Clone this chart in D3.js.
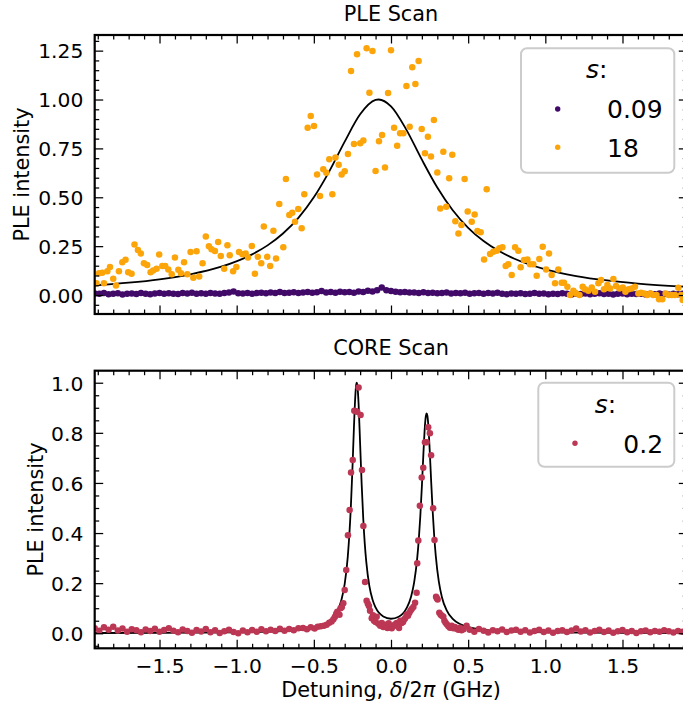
<!DOCTYPE html>
<html><head><meta charset="utf-8">
<script src="https://cdn.jsdelivr.net/npm/d3@7"></script>
<style>body{margin:0;background:#fff}svg{display:block}text{font-family:"DejaVu Sans",sans-serif}</style>
</head><body><svg id="c" width="683" height="709"></svg>
<script>
// ---------- data ----------
const xTicks = [-1.5,-1.0,-0.5,0.0,0.5,1.0,1.5];
const xTickLabels = ["\u22121.5","\u22121.0","\u22120.5","0.0","0.5","1.0","1.5"];
const yTicksTop = [0,0.25,0.5,0.75,1.0,1.25];
const yTickLabelsTop = ["0.00","0.25","0.50","0.75","1.00","1.25"];
const yTicksBot = [0,0.2,0.4,0.6,0.8,1.0];
const yTickLabelsBot = ["0.0","0.2","0.4","0.6","0.8","1.0"];

// PLE scan, s = 0.09
const purpleX = [-1.92,-1.89,-1.86,-1.83,-1.80,-1.77,-1.74,-1.71,-1.68,-1.65,
-1.62,-1.59,-1.56,-1.53,-1.50,-1.47,-1.44,-1.41,-1.38,-1.35,
-1.32,-1.29,-1.26,-1.23,-1.20,-1.17,-1.14,-1.11,-1.08,-1.05,
-1.02,-0.99,-0.96,-0.93,-0.90,-0.87,-0.84,-0.81,-0.78,-0.75,
-0.72,-0.69,-0.66,-0.63,-0.60,-0.57,-0.54,-0.51,-0.48,-0.45,
-0.42,-0.39,-0.36,-0.33,-0.30,-0.27,-0.24,-0.21,-0.18,-0.15,
-0.12,-0.09,-0.06,-0.03,0.00,0.03,0.06,0.09,0.12,0.15,
0.18,0.21,0.24,0.27,0.30,0.33,0.36,0.39,0.42,0.45,
0.48,0.51,0.54,0.57,0.60,0.63,0.66,0.69,0.72,0.75,
0.78,0.81,0.84,0.87,0.90,0.93,0.96,0.99,1.02,1.05,
1.08,1.11,1.14,1.17,1.20,1.23,1.26,1.29,1.32,1.35,
1.38,1.41,1.44,1.47,1.50,1.53,1.56,1.59,1.62,1.65,
1.68,1.71,1.74,1.77,1.80,1.83,1.86,1.89,1.92];
const purpleY = [0.008,0.006,0.01,0.004,0.007,0.009,0.003,0.006,0.008,0.005,
0.01,0.007,0.004,0.008,0.011,0.006,0.009,0.007,0.005,0.01,
0.008,0.012,0.006,0.009,0.007,0.011,0.008,0.006,0.01,0.013,
0.018,0.009,
0.008,0.011,0.007,0.01,0.012,0.009,0.013,0.011,0.015,0.01,
0.012,0.014,0.011,0.013,0.016,0.012,0.014,0.02,0.013,0.015,
0.012,0.017,0.014,
0.016,0.012,0.018,0.015,0.022,0.018,0.025,0.038,0.024,0.02,
0.017,0.014,0.016,0.013,
0.013,0.011,0.014,0.01,0.012,0.009,0.011,0.013,0.008,0.01,
0.009,0.012,0.007,0.009,0.011,0.006,0.01,0.008,0.012,0.007,
0.004,0.008,0.006,0.009,0.005,0.007,0.01,0.006,0.008,0.004,
0.007,0.005,0.009,0.006,0.003,0.007,0.005,0.008,0.004,0.006,
0.009,0.005,0.007,0.003,0.006,0.008,0.004,0.006,0.005,0.007,
0.003,0.006,0.004,0.008,0.005,0.003,0.006,0.004,0.007,0.005];

// PLE scan, s = 18
const orangeX = [-1.909,-1.892,-1.871,-1.86,-1.838,-1.821,-1.8,-1.782,-1.763,-1.741,
-1.72,-1.703,-1.681,-1.662,-1.64,-1.621,-1.601,-1.58,-1.558,-1.541,
-1.519,-1.502,-1.482,-1.463,-1.443,-1.421,-1.4,-1.378,-1.361,-1.341,
-1.32,-1.299,-1.281,-1.26,-1.243,-1.221,-1.2,-1.18,-1.163,-1.141,
-1.12,-1.103,-1.081,-1.06,-1.045,-1.023,-1.002,-0.985,-0.963,-0.942,
-0.927,-0.902,-0.882,-0.863,-0.841,-0.824,-0.802,-0.783,-0.762,-0.745,
-0.724,
-0.698,-0.681,-0.659,-0.64,-0.622,-0.601,-0.579,-0.562,-0.54,-0.52,
-0.499,-0.479,-0.46,-0.439,-0.419,-0.4,-0.38,-0.36,-0.339,-0.32,
-0.3,-0.279,-0.259,-0.24,-0.22,-0.199,-0.179,-0.158,-0.14,-0.12,
-0.1,-0.078,-0.058,-0.039,-0.019,0.0,0.02,0.04,0.059,0.08,
0.1,0.121,0.138,0.158,0.179,0.199,0.22,0.239,0.259,0.278,
0.3,0.319,0.339,0.358,0.377,0.397,0.417,0.437,0.456,0.477,0.497,
0.523,0.542,0.56,0.581,0.603,0.62,0.642,0.663,0.685,0.702,
0.722,0.743,0.76,0.782,0.804,0.825,0.84,0.862,0.884,0.901,
0.922,0.944,0.961,0.983,1.005,1.024,1.041,1.063,1.084,1.106,
1.121,1.143,1.16,1.182,1.199,1.221,1.242,1.257,1.279,1.301,
1.322,1.344,1.361,1.38,1.402,1.42,1.441,1.458,1.48,1.502,
1.519,1.54,1.56,1.581,1.603,1.62,1.641,1.66,1.682,1.698,
1.72,1.737,1.758,1.78,1.8,1.82,1.84,1.862,1.879,1.89];
const orangeY = [0.06,0.112,0.114,0.06,0.122,0.143,0.083,0.049,0.122,0.168,
0.18,0.117,0.109,0.259,0.23,0.213,0.162,0.154,0.117,0.126,
0.134,0.207,0.149,0.149,0.131,0.106,0.192,0.129,0.112,0.168,
0.106,0.22,0.088,0.224,0.095,0.163,0.3,0.249,0.234,0.225,
0.271,0.2,0.135,0.254,0.204,0.122,0.143,0.22,0.209,0.213,
0.192,0.251,0.109,0.196,0.162,0.35,0.196,0.148,0.329,0.187,
0.466,
0.244,0.594,0.409,0.421,0.375,0.44,0.341,0.516,0.856,0.916,
0.865,0.616,0.506,0.643,0.626,0.694,0.516,0.703,0.666,0.616,
0.633,0.721,1.146,0.773,1.231,0.776,0.79,1.262,1.034,1.248,
0.634,0.787,0.818,0.652,1.033,1.252,0.856,0.763,0.827,0.827,
1.069,0.861,1.165,1.079,1.197,0.849,0.725,0.81,0.708,0.895,
0.627,0.443,0.733,0.452,0.597,0.717,0.378,0.315,0.358,0.594,0.427,
0.375,0.412,0.327,0.321,0.182,0.541,0.21,0.222,0.227,0.239,
0.244,0.148,0.157,0.102,0.244,0.227,0.142,0.179,0.182,0.158,
0.158,0.099,0.184,0.247,0.131,0.213,0.102,0.06,0.131,0.063,
0.063,0.042,0.0,0.022,0.008,0.0,0.042,0.029,0.022,0.039,
0.017,0.06,0.077,0.029,0.051,0.034,0.082,0.046,0.034,0.039,
0.017,0.029,0.034,0.042,0.008,0.012,0.008,0.0,0.008,0.0,
0.0,-0.022,-0.022,0.008,0.0,0.0,0.0,0.037,0.0,-0.026];

// PLE fit
const fitTopX = [-1.92,-1.7,-1.5,-1.3,-1.1,-0.9,-0.8,-0.7,-0.6,-0.5,-0.4,-0.3,-0.2,-0.1,-0.08,0,0.1,0.2,0.3,0.4,0.5,0.6,0.7,0.8,1.0,1.2,1.4,1.6,1.92];
const fitTopY = [0.0495,0.063,0.0804,0.106,0.145,0.208,0.254,0.3146,0.3948,0.5,0.6327,0.7847,0.9245,0.9977,1.0,0.965,0.8448,0.6923,0.5499,0.4336,0.344,0.2762,0.2248,0.1855,0.1314,0.0972,0.0745,0.0588,0.0422];

// CORE scan, s = 0.2
const crimsonLeftX = [-1.92,-1.89,-1.86,-1.83,-1.80,-1.77,-1.74,-1.71,-1.68,-1.65,
-1.62,-1.59,-1.56,-1.53,-1.50,-1.47,-1.44,-1.41,-1.38,-1.35,
-1.32,-1.29,-1.26,-1.23,-1.20,-1.17,-1.14,-1.11,-1.08,-1.05,
-1.02,-0.99,-0.96,-0.93,-0.90,-0.87,-0.84,-0.81,-0.78,-0.75,
-0.72,-0.69,-0.66,-0.63,-0.60];
const crimsonLeftY = [0.02,0.01,0.024,0.014,0.026,0.011,0.019,0.006,0.016,0.012,
0.004,0.015,0.009,0.018,0.006,0.013,0.02,0.01,0.004,0.015,
0.009,0.002,0.013,0.007,0.017,0.004,0.012,0.001,0.008,0.014,
0.005,0.0,0.011,0.004,0.013,0.006,0.016,0.008,0.014,0.009,
0.018,0.01,0.017,0.012,0.02];
const crimsonPeaks = [[-0.57,0.021],[-0.545,0.016],[-0.52,0.024],[-0.495,0.019],[-0.475,0.026],
[-0.455,0.028],[-0.435,0.03],[-0.417,0.034],[-0.4,0.042],[-0.385,0.047],[-0.373,0.056],
[-0.363,0.066],[-0.355,0.078],[-0.348,0.086],[-0.334,0.074],[-0.327,0.1],[-0.319,0.104],
[-0.309,0.12],[-0.3,0.173],[-0.29,0.253],[-0.279,0.391],[-0.268,0.492],[-0.259,0.642],
[-0.248,0.692],[-0.238,0.888],[-0.228,0.886],[-0.219,0.884],[-0.21,0.981],[-0.197,0.871],
[-0.188,0.652],[-0.179,0.428],[-0.168,0.205],[-0.158,0.13],[-0.15,0.118],[-0.143,0.109],
[-0.136,0.09],[-0.125,0.06],[-0.117,0.072],[-0.11,0.05],[-0.1,0.045],[-0.093,0.066],
[-0.082,0.038],[-0.07,0.03],[-0.06,0.041],[-0.05,0.025],[-0.038,0.034],[-0.023,0.021],
[-0.015,0.04],[-0.006,0.03],[0.005,0.02],[0.015,0.028],[0.025,0.035],[0.037,0.041],
[0.045,0.03],[0.052,0.021],[0.06,0.05],[0.069,0.041],[0.078,0.045],[0.084,0.054],
[0.092,0.06],[0.101,0.074],[0.11,0.07],[0.118,0.081],[0.126,0.09],[0.134,0.097],
[0.145,0.105],[0.156,0.122],[0.166,0.162],[0.17,0.279],[0.177,0.37],[0.187,0.509],
[0.199,0.622],[0.209,0.661],[0.22,0.762],[0.231,0.762],[0.241,0.822],[0.252,0.798],
[0.26,0.711],[0.273,0.499],[0.282,0.372],[0.292,0.146],[0.297,0.14],[0.302,0.135],
[0.313,0.082],[0.322,0.074],[0.33,0.07],[0.339,0.066],[0.346,0.05],[0.354,0.042],
[0.363,0.035],[0.372,0.028],[0.382,0.022],[0.393,0.03],[0.404,0.02],[0.414,0.025],
[0.425,0.018],[0.436,0.014],[0.447,0.022],[0.457,0.012],[0.47,0.016],[0.49,0.03]];
const crimsonRightX = [0.51,0.54,0.57,0.60,0.63,0.66,0.69,0.72,0.75,0.78,
0.81,0.84,0.87,0.90,0.93,0.96,0.99,1.02,1.05,1.08,
1.11,1.14,1.17,1.20,1.23,1.26,1.29,1.32,1.35,1.38,
1.41,1.44,1.47,1.50,1.53,1.56,1.59,1.62,1.65,1.68,
1.71,1.74,1.77,1.80,1.83,1.86,1.89,1.92];
const crimsonRightY = [0.014,0.006,0.017,0.01,0.003,0.012,0.008,0.015,0.005,0.011,
0.014,0.006,0.012,0.003,0.009,0.014,0.005,0.011,0.002,0.009,
0.012,0.005,0.011,0.019,0.007,0.012,0.003,0.009,0.014,0.005,
0.011,0.002,0.008,0.013,0.004,0.009,0.001,0.008,0.011,0.004,
0.009,0.006,0.012,0.008,0.003,0.009,0.006,0.011];

// CORE fit
const fitBotX = [-1.92,-1.5,-1.0,-0.7,-0.5,-0.4,-0.35,-0.32,-0.3,-0.28,-0.26,-0.25,-0.24,-0.23,-0.226,-0.222,-0.218,-0.21,-0.2,-0.19,-0.18,-0.17,-0.16,-0.14,-0.12,-0.1,-0.05,0,0.05,0.1,0.13,0.15,0.17,0.18,0.19,0.2,0.21,0.22,0.226,0.231,0.236,0.24,0.25,0.26,0.27,0.28,0.29,0.31,0.33,0.36,0.4,0.5,0.7,1.0,1.5,1.92];
const fitBotY = [0.001,0.0014,0.0035,0.0082,0.0213,0.0477,0.0858,0.136,0.1975,0.306,0.5065,0.655,0.824,0.96,0.99,1.0,0.99,0.915,0.755,0.594,0.46,0.358,0.284,0.188,0.135,0.103,0.067,0.058,0.066,0.099,0.146,0.203,0.301,0.374,0.468,0.586,0.717,0.83,0.868,0.878,0.868,0.845,0.741,0.61,0.488,0.388,0.31,0.206,0.144,0.0925,0.057,0.0246,0.0089,0.0036,0.0014,0.0007];

const colPurple = "#420a68", colOrange = "#fca50a", colCrimson = "#bc3754";

// ---------- drawing ----------
const svg = d3.select("#c");
const FONT = "DejaVu Sans";
const R = 3.25;
const x = d3.scaleLinear().domain([-1.92,1.92]).range([94.7,687.3]);
const yTop = d3.scaleLinear().domain([-0.097,1.33]).range([314,35]);
const yBot = d3.scaleLinear().domain([-0.06,1.048]).range([648.3,370.7]);

function addAxis(gen, tx, ty, values, size, labels, pad) {
  const a = gen.tickValues(values).tickSize(size).tickPadding(pad || 3)
    .tickFormat(labels ? (d,i) => labels[i] : () => "");
  const g = svg.append("g").attr("transform", `translate(${tx},${ty})`).call(a);
  g.select(".domain").remove();
  g.attr("font-family", FONT).attr("font-size", 20.3);
  g.selectAll(".tick line").attr("stroke", "#000").attr("stroke-width", 1.25);
  g.selectAll(".tick text").attr("fill", "#000");
  return g;
}

function minorOf(domain, step, majors) {
  const out = [];
  const n0 = Math.ceil(domain[0] / step - 1e-9), n1 = Math.floor(domain[1] / step + 1e-9);
  for (let i = n0; i <= n1; i++) {
    const v = +(i * step).toFixed(4);
    if (!majors.some(m => Math.abs(m - v) < 1e-6)) out.push(v);
  }
  return out;
}

function panel(y, yTicks, yLabels, showX, id) {
  const [x0, x1] = x.range();
  const [yb, yt] = y.range();
  svg.append("clipPath").attr("id", id).append("rect")
    .attr("x", x0).attr("y", yt).attr("width", x1 - x0).attr("height", yb - yt);
  const plot = svg.append("g").attr("clip-path", `url(#${id})`);
  const xMinor = minorOf(x.domain(), 0.1, xTicks);
  const yMinor = minorOf(y.domain(), 0.05, yTicks);
  const bx = addAxis(d3.axisBottom(x), 0, yb, xTicks, -8.5, showX ? xTickLabels : null, 10.6);
  bx.selectAll(".tick text").attr("dy", "0.71em");
  addAxis(d3.axisBottom(x), 0, yb, xMinor, -4.5, null);
  addAxis(d3.axisTop(x), 0, yt, xTicks, -8.5, null);
  addAxis(d3.axisTop(x), 0, yt, xMinor, -4.5, null);
  const ly = addAxis(d3.axisLeft(y), x0, 0, yTicks, -8.5, yLabels, 11.4);
  ly.selectAll(".tick text").attr("dy", "0.36em");
  addAxis(d3.axisLeft(y), x0, 0, yMinor, -4.5, null);
  addAxis(d3.axisRight(y), x1, 0, yTicks, -8.5, null);
  addAxis(d3.axisRight(y), x1, 0, yMinor, -4.5, null);
  svg.append("rect").attr("x", x0).attr("y", yt).attr("width", x1 - x0).attr("height", yb - yt)
    .attr("fill", "none").attr("stroke", "#000").attr("stroke-width", 2.2);
  return plot;
}

function dots(g, xs, ys, y, color) {
  g.append("g").selectAll("circle").data(xs.map((d, i) => [d, ys[i]])).join("circle")
    .attr("cx", d => x(d[0])).attr("cy", d => y(d[1])).attr("r", R).attr("fill", color);
}
function fit(g, xs, ys, y) {
  const line = d3.line().x(d => x(d[0])).y(d => y(d[1])).curve(d3.curveMonotoneX);
  g.append("path").attr("d", line(xs.map((d, i) => [d, ys[i]])))
    .attr("fill", "none").attr("stroke", "#000").attr("stroke-width", 1.8);
}

const pTop = panel(yTop, yTicksTop, yTickLabelsTop, false, "clipTop");
fit(pTop, fitTopX, fitTopY, yTop);
dots(pTop, purpleX, purpleY, yTop, colPurple);
dots(pTop, orangeX, orangeY, yTop, colOrange);

const pBot = panel(yBot, yTicksBot, yTickLabelsBot, true, "clipBot");
fit(pBot, fitBotX, fitBotY, yBot);
const cX = crimsonLeftX.concat(crimsonPeaks.map(d => d[0]), crimsonRightX);
const cY = crimsonLeftY.concat(crimsonPeaks.map(d => d[1]), crimsonRightY);
dots(pBot, cX, cY, yBot, colCrimson);

function txt(xp, yp, s, size, anchor) {
  return svg.append("text").attr("x", xp).attr("y", yp).attr("font-family", FONT)
    .attr("font-size", size).attr("text-anchor", anchor || "middle").attr("fill", "#000").text(s);
}
txt(391, 20.5, "PLE Scan", 20.8);
txt(391, 355, "CORE Scan", 20.8);
svg.append("text").attr("transform", "translate(28.5,174.5) rotate(-90)").attr("text-anchor", "middle")
  .attr("font-family", FONT).attr("font-size", 20.8).text("PLE intensity");
svg.append("text").attr("transform", "translate(42.5,509.5) rotate(-90)").attr("text-anchor", "middle")
  .attr("font-family", FONT).attr("font-size", 20.8).text("PLE intensity");
const xl = svg.append("text").attr("x", 391).attr("y", 697).attr("text-anchor", "middle")
  .attr("font-family", FONT).attr("font-size", 20.8);
xl.append("tspan").text("Detuning, ");
xl.append("tspan").attr("font-style", "italic").text("\u03b4");
xl.append("tspan").text("/2");
xl.append("tspan").attr("font-style", "italic").text("\u03c0");
xl.append("tspan").text(" (GHz)");

function legend(bx, by, bw, bh, titleX, titleY, entries) {
  svg.append("rect").attr("x", bx).attr("y", by).attr("width", bw).attr("height", bh).attr("rx", 6)
    .attr("fill", "#fff").attr("fill-opacity", 0.8).attr("stroke", "#cccccc").attr("stroke-width", 2);
  const t = svg.append("text").attr("x", titleX).attr("y", titleY).attr("text-anchor", "middle")
    .attr("font-family", FONT).attr("font-size", 25);
  t.append("tspan").attr("font-style", "italic").text("s");
  t.append("tspan").text(":");
  entries.forEach(e => {
    svg.append("circle").attr("cx", e.mx).attr("cy", e.my).attr("r", 2.7).attr("fill", e.color);
    txt(e.tx, e.ty, e.label, 25, "start");
  });
}
legend(521, 48.3, 153.3, 124.4, 596.7, 77.7, [
  {mx: 557.7, my: 109, color: colPurple, tx: 607, ty: 117.7, label: "0.09"},
  {mx: 557.7, my: 147.3, color: colOrange, tx: 607, ty: 156.7, label: "18"}
]);
legend(538.3, 382.7, 136, 84, 605.5, 412.7, [
  {mx: 575, my: 443.3, color: colCrimson, tx: 623.3, ty: 452.7, label: "0.2"}
]);
</script></body></html>
